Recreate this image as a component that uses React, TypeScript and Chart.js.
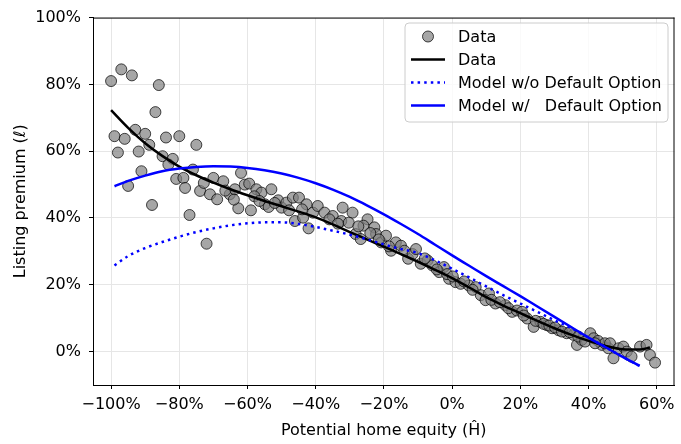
import React, { useEffect, useRef } from "react";
import { Chart, registerables } from "chart.js";

Chart.register(...registerables);

// Scatter data (potential home equity %, listing premium %)
const dataX = [
  -100, -97, -93.9, -86, -87, -99, -96, -92.9, -90, -88.8, -83.9, -80, -75, -98, -91.9, -84.9, -81.9, -83.2, -91.1, -80.9,
  -78.8, -76, -78.3, -95, -88, -77, -72, -73.9, -72.8, -71, -70, -68.9,
  -67.1, -65.2, -63.7, -61.9, -62.7, -59, -60.8, -59.5, -57.4, -55.9, -54.9, -53.8, -53, -51, -50, -48.6, -46.7, -44.9,
  -42.7, -46.1, -43.7, -42.1, -40.8, -39.4, -64, -66.5, -58, -56.5, -52, -47.8, -44,
  -37.4, -35, -32.1, -29.2, -32.5, -30.3, -24.8, -26, -22.8, -28.3, -26.8, -22.3, -20.8, -19.4, -17.9, -16.5, -15, -12.9,
  -14, -11.6, -10.6, -36, -33.5, -27.5, -24, -21.5, -18.5,
  -9.2, -7.2, -5.8, -3.8, -2.4, -0.9, 1.0, 2.5, 4.9, 6.9, 8.4, 10.8, 9.8, 12.7, 15.6, 17.6, -8, -4.5, -1.5, 0.2, 3.5, 6,
  11.5, 14, 16.5, 19,
  20.5, 22, 23.9, 25.9, 27.8, 29.3, 31.2, 33.6, 35.6, 36.6, 38, 40.5, 41.5, 43.9, 45.8, 21, 24.5, 26.8, 28.5, 30.2, 32.2,
  34.5, 37, 39, 42.8, 44.8,
  41.9, 46.3, 47.3, 48.8, 50.2, 51.2, 52.6, 55.1, 57, 58, 59.5,
];
const dataY = [
  81.0, 84.5, 82.7, 79.8, 71.7, 64.5, 63.7, 66.4, 65.2, 61.9, 64.1, 64.5, 61.9, 59.6, 59.9, 58.5, 57.7, 56, 54, 51.7,
  52, 54.5, 49, 49.6, 43.9, 40.9, 32.3, 48.1, 50.5, 47.1, 52, 45.6,
  51, 47.1, 48.6, 53.5, 42.9, 42.3, 50, 50.3, 48.6, 47.6, 44.1, 43.3, 48.6, 45.3, 43.1, 44.6, 46.1, 46.1,
  44.1, 39.1, 40.1, 36.9, 41.6, 43.6, 45.5, 48.2, 46.5, 45.1, 44.5, 42.3, 42.6,
  41.6, 40.6, 43.1, 41.6, 39.1, 38.6, 39.6, 37.7, 37.2, 35.2, 33.7, 35.2, 32.7, 34.7, 30.2, 32.7, 31.7, 27.8,
  30.2, 29.2, 30.7, 39.6, 38.3, 37.5, 35.5, 33.6, 31.5,
  26.3, 27.3, 25.8, 23.8, 25.3, 21.8, 20.8, 20.3, 19.8, 19.3, 16.9, 17.4, 15.4, 14.4, 13.9, 11.9, 27.9, 24.6, 23.2, 22.5, 21.0, 18.5,
  15.5, 14.8, 13.0, 12.3,
  11.9, 9.9, 7.4, 8.9, 7.9, 7.0, 6.4, 5.5, 5.0, 2.0, 3.5, 5.5, 4.0, 2.0, 1.0, 10.8, 9.2, 8.3, 7.8, 7.2, 6.0,
  5.8, 4.5, 3.0, 3.2, 2.5,
  2.5, 2.5, -2.0, 1.0, 1.5, 0, -1.5, 1.5, 2.0, -1.0, -3.3,
];

// Fitted curve through the data
const fitX = [-100, -95, -90, -85, -80, -75, -70, -65, -60, -55, -50, -45, -40, -35, -30, -25, -20, -15, -10, -5, 0, 5, 10, 15, 20, 25, 30, 35, 40, 45, 50, 55, 58];
const fitY = [72.3, 67.0, 62.4, 58.6, 55.4, 52.8, 50.6, 48.6, 46.8, 45.1, 43.5, 41.9, 40.2, 38.1, 35.8, 33.6, 31.4, 29.2, 26.9, 24.5, 22.0, 19.2, 16.3, 13.8, 11.5, 9.2, 7.0, 5.0, 3.2, 1.7, 0.7, 0.6, 1.2];

// Models
const modelX = [-99, -95, -90, -85, -80, -75, -70, -65, -60, -55, -50, -45, -40, -35, -30, -25, -20, -15, -10, -5, 0, 5, 10, 15, 20, 25, 30, 35, 40, 45, 50, 55];
const noDefaultY = [25.8, 28.6, 31.0, 32.8, 34.4, 35.8, 36.9, 37.8, 38.4, 38.7, 38.7, 38.2, 37.3, 36.2, 35.0, 33.6, 32.1, 30.7, 29.5, 27.3, 24.8, 22.2, 19.5, 16.9, 14.4, 11.9, 9.4, 7.0, 4.2, 1.3, -1.6, -4.3];
const withDefaultY = [49.5, 51.1, 52.7, 54.0, 54.8, 55.3, 55.5, 55.4, 55.0, 54.3, 53.3, 52.0, 50.4, 48.5, 46.3, 43.8, 41.1, 38.2, 35.2, 32.0, 28.8, 25.7, 22.6, 19.6, 16.6, 13.5, 10.4, 7.3, 4.2, 1.3, -1.6, -4.3];

const xTicks = [-100, -80, -60, -40, -20, 0, 20, 40, 60];
const yTicks = [0, 20, 40, 60, 80, 100];

const legendLabels = ["Data", "Data", "Model w/o Default Option", "Model w/   Default Option"];

const FONT = "'DejaVu Sans', sans-serif";
const pts = (xs: number[], ys: number[]) => xs.map((x, i) => ({ x, y: ys[i] }));
const fmt = (v: number) => (v < 0 ? "\u2212" + Math.abs(v) : String(v)) + "%";

const framePlugin = {
  id: "frameAndLegend",
  afterDraw(chart: any) {
    const { ctx, chartArea } = chart;
    const { left, right, top, bottom } = chartArea;
    ctx.save();
    ctx.strokeStyle = "#000";
    ctx.lineWidth = 1;
    ctx.beginPath();
    ctx.moveTo(left, top + 0.5);
    ctx.lineTo(right, top + 0.5);
    ctx.moveTo(right - 0.5, top);
    ctx.lineTo(right - 0.5, bottom);
    ctx.stroke();

    // legend
    const bx = 405, by = 23, bw = 263, bh = 99;
    const r = 4;
    ctx.beginPath();
    ctx.moveTo(bx + r, by);
    ctx.lineTo(bx + bw - r, by);
    ctx.quadraticCurveTo(bx + bw, by, bx + bw, by + r);
    ctx.lineTo(bx + bw, by + bh - r);
    ctx.quadraticCurveTo(bx + bw, by + bh, bx + bw - r, by + bh);
    ctx.lineTo(bx + r, by + bh);
    ctx.quadraticCurveTo(bx, by + bh, bx, by + bh - r);
    ctx.lineTo(bx, by + r);
    ctx.quadraticCurveTo(bx, by, bx + r, by);
    ctx.closePath();
    ctx.fillStyle = "rgba(255,255,255,0.8)";
    ctx.fill();
    ctx.strokeStyle = "#cccccc";
    ctx.stroke();

    const rowY = [36.5, 59.5, 82.5, 105.5];
    const lx0 = 411, lx1 = 445;
    // marker
    ctx.beginPath();
    ctx.arc(428, rowY[0], 5.5, 0, Math.PI * 2);
    ctx.fillStyle = "rgba(128,128,128,0.7)";
    ctx.fill();
    ctx.strokeStyle = "rgba(0,0,0,0.7)";
    ctx.lineWidth = 1;
    ctx.stroke();
    // lines
    const drawLine = (y: number, color: string, dash: number[]) => {
      ctx.beginPath();
      ctx.setLineDash(dash);
      ctx.strokeStyle = color;
      ctx.lineWidth = 2.5;
      ctx.lineCap = "butt";
      ctx.moveTo(lx0, y);
      ctx.lineTo(lx1, y);
      ctx.stroke();
      ctx.setLineDash([]);
    };
    drawLine(rowY[1], "#000", []);
    drawLine(rowY[2], "#0000ff", [2.5, 4.1]);
    drawLine(rowY[3], "#0000ff", []);

    ctx.fillStyle = "#000";
    ctx.font = "16px " + FONT;
    ctx.textBaseline = "middle";
    ctx.textAlign = "left";
    legendLabels.forEach((t, i) => ctx.fillText(t, 458, rowY[i] + 1));
    ctx.restore();
  },
};

export default function App() {
  const ref = useRef<HTMLCanvasElement>(null);
  useEffect(() => {
    if (!ref.current) return;
    const chart = new Chart(ref.current, {
      type: "scatter",
      data: {
        datasets: [
          {
            label: legendLabels[0],
            data: pts(dataX, dataY),
            backgroundColor: "rgba(128,128,128,0.7)",
            borderColor: "rgba(0,0,0,0.7)",
            borderWidth: 1,
            pointRadius: 5.5,
            showLine: false,
            order: 4,
          },
          {
            label: legendLabels[1],
            data: pts(fitX, fitY),
            borderColor: "#000",
            borderWidth: 2.5,
            pointRadius: 0,
            showLine: true,
            cubicInterpolationMode: "monotone",
            order: 3,
          },
          {
            label: legendLabels[2],
            data: pts(modelX, noDefaultY),
            borderColor: "#0000ff",
            borderWidth: 2.5,
            borderDash: [2.5, 4.1],
            borderCapStyle: "butt",
            pointRadius: 0,
            showLine: true,
            cubicInterpolationMode: "monotone",
            order: 2,
          },
          {
            label: legendLabels[3],
            data: pts(modelX, withDefaultY),
            borderColor: "#0000ff",
            borderWidth: 2.5,
            pointRadius: 0,
            showLine: true,
            cubicInterpolationMode: "monotone",
            order: 1,
          },
        ],
      } as any,
      options: {
        animation: false,
        responsive: false,
        devicePixelRatio: 1,
        layout: { padding: { top: 15, right: 4, left: 0, bottom: 0 } },
        plugins: { legend: { display: false }, tooltip: { enabled: false } },
        scales: {
          x: {
            type: "linear",
            min: -105.3,
            max: 65.2,
            afterBuildTicks: (s: any) => {
              s.ticks = xTicks.map((v) => ({ value: v }));
            },
            afterFit: (s: any) => {
              s.height = 59;
            },
            ticks: {
              autoSkip: false,
              maxRotation: 0,
              padding: 6,
              color: "#000",
              font: { family: FONT, size: 16 },
              callback: (v: any) => fmt(Number(v)),
            },
            grid: { color: "#e6e6e6", lineWidth: 1, tickColor: "#000", tickLength: 4, drawTicks: true },
            border: { display: true, color: "#000", width: 1 },
            title: {
              display: true,
              text: "Potential home equity (Ĥ)",
              color: "#000",
              font: { family: FONT, size: 16 },
              padding: { top: 0, bottom: 4 },
            },
          },
          y: {
            type: "linear",
            min: -10,
            max: 100,
            afterBuildTicks: (s: any) => {
              s.ticks = yTicks.map((v) => ({ value: v }));
            },
            afterFit: (s: any) => {
              s.width = 93;
            },
            ticks: {
              padding: 8,
              color: "#000",
              font: { family: FONT, size: 16 },
              callback: (v: any) => fmt(Number(v)),
            },
            grid: { color: "#e6e6e6", lineWidth: 1, tickColor: "#000", tickLength: 4, drawTicks: true },
            border: { display: true, color: "#000", width: 1 },
            title: {
              display: true,
              text: "Listing premium (ℓ)",
              color: "#000",
              font: { family: FONT, size: 16 },
              padding: { top: 11, bottom: 0 },
            },
          },
        },
      },
      plugins: [framePlugin],
    } as any);
    return () => chart.destroy();
  }, []);
  return (
    <div style={{ position: "fixed", left: 0, top: 0, width: 681, height: 444, background: "#fff" }}>
      <canvas ref={ref} width={681} height={444} style={{ width: 681, height: 444, display: "block" }} />
    </div>
  );
}
